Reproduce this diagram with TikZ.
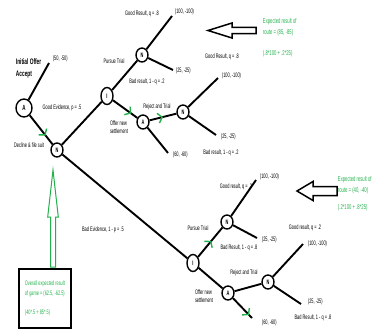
\documentclass[tikz,border=0pt]{standalone}
\usepackage{fontspec}
\setmainfont{Liberation Sans}[FakeStretch=0.6]
\usetikzlibrary{arrows.meta,decorations.markings,shapes.geometric}
\definecolor{paintgreen}{RGB}{34,177,76}

\begin{document}
\begin{tikzpicture}[x=1pt,y=-1pt,line width=1.9pt,
  main node/.style={ellipse,draw,fill=white,line width=1.4pt,inner sep=0pt,minimum width=12pt,minimum height=14pt,font=\fontsize{6.5}{6.5}\selectfont\bfseries},
  root node/.style={main node,minimum width=16pt,minimum height=18pt,font=\fontsize{7.5}{7.5}\selectfont\bfseries},
  trial node/.style={main node,minimum height=17pt},
  lbl/.style={font=\fontsize{6.5}{8.5}\selectfont,inner sep=0pt,align=left},
  pay/.style={lbl,anchor=west},
  note/.style={font=\fontsize{7}{11}\selectfont,text=paintgreen,align=left,anchor=north west,inner sep=0pt},
  go/.style={postaction={decorate,decoration={markings,mark=at position #1 with {\arrow[paintgreen,line width=1.4pt]{Straight Barb[length=4pt,width=10pt]}}}}},
  big arrow/.style={draw,line width=1.5pt,line join=miter}]
  \useasboundingbox (0,0) rectangle (375,330);

  \coordinate (e0) at (49,63);
  \coordinate (e1) at (172,16);
  \coordinate (e2) at (173,70);
  \coordinate (e3) at (168,153);
  \coordinate (e4) at (218,78);
  \coordinate (e5) at (216,135);
  \coordinate (e6) at (256,180);
  \coordinate (e7) at (257,238);
  \coordinate (e8) at (303,244);
  \coordinate (e9) at (301,304);
  \coordinate (e10) at (252,318);

  \node[root node] (1) at (24,108) {A};
  \node[main node] (2) at (57,150) {N};
  \node[trial node] (3) at (107,96) {I};
  \node[main node] (4) at (142,55) {N};
  \node[main node] (5) at (143,122) {A};
  \node[main node] (6) at (183,112) {N};
  \node[trial node] (7) at (193,263) {I};
  \node[main node] (8) at (227,222) {N};
  \node[main node] (9) at (228,293) {A};
  \node[main node] (10) at (268,282) {N};

\path
  (1) edge (e0)
  (1) edge[go=.7] (2)
  (2) edge (3)
  (3) edge (4)
  (4) edge (e1)
  (4) edge (e2)
  (3) edge[go=.75] (5)
  (5) edge[go=.5] (6)
  (6) edge (e4)
  (6) edge (e5)
  (5) edge (e3)
  (2) edge (7)
  (7) edge[go=.55] (8)
  (8) edge (e6)
  (8) edge (e7)
  (7) edge (9)
  (9) edge (10)
  (10) edge (e8)
  (10) edge (e9)
  (9) edge[go=.85] (e10)
;

  \node[lbl,anchor=west,font=\fontsize{8}{12}\selectfont\bfseries] (l0) at (15,68) {Initial Offer\\Accept};
  \node[lbl] (l1) at (29,145) {Decline \& file suit};
  \node[lbl] (l2) at (62,108) {Good Evidence, p = .5};
  \node[lbl] (l3) at (114,61) {Pursue Trial};
  \node[lbl] (l4) at (142,14) {Good Result, q = .8};
  \node[lbl] (l5) at (147,82) {Bad result, 1 - q = .2};
  \node[lbl] (l6) at (119,127) {Offer new\\settlement};
  \node[lbl] (l7) at (157,107) {Reject and Trial};
  \node[lbl] (l8) at (222,57) {Good Result, q = .8};
  \node[lbl] (l9) at (221,153) {Bad result, 1 - q = .2};
  \node[lbl] (l10) at (103,230) {Bad Evidence, 1 - p = .5};
  \node[lbl] (l11) at (198,228) {Pursue Trial};
  \node[lbl] (l12) at (236,187) {Good result, q = .2};
  \node[lbl] (l13) at (239,248) {Bad Result, 1 - q = .8};
  \node[lbl] (l14) at (204,296) {Offer new\\settlement};
  \node[lbl] (l15) at (244,273) {Reject and Trial};
  \node[lbl] (l16) at (305,228) {Good result, q = .2};
  \node[lbl] (l17) at (313,318) {Bad Result, 1 - q = .8};

  \node[pay] (p0) at (52,59) {(50, -50)};
  \node[pay] (p1) at (174,12) {(100, -100)};
  \node[pay] (p2) at (175,71) {(25, -25)};
  \node[pay] (p3) at (172,155) {(60, -60)};
  \node[pay] (p4) at (221,76) {(100, -100)};
  \node[pay] (p5) at (220,137) {(25, -25)};
  \node[pay] (p6) at (259,177) {(100, -100)};
  \node[pay] (p7) at (261,240) {(25, -25)};
  \node[pay] (p8) at (307,244) {(100, -100)};
  \node[pay] (p9) at (307,302) {(25, -25)};
  \node[pay] (p10) at (261,323) {(60, -60)};

  \draw[big arrow] (208,30.5) -- (232,23) -- (232,27.3) -- (256,27.3) -- (256,33.7) -- (232,33.7) -- (232,38) -- cycle;
  \draw[big arrow] (297,191) -- (313,181.5) -- (313,186.5) -- (337,186.5) -- (337,195.5) -- (313,195.5) -- (313,200.5) -- cycle;
  \draw[big arrow,paintgreen,line width=1pt] (53,170) -- (58.3,217) -- (55.5,217) -- (55.5,267) -- (50.5,267) -- (50.5,217) -- (47.7,217) -- cycle;

  \node[note] (r1) at (262,17) {Expected result of\\route = (85, -85)\\[10pt](.8*100 + .2*25)};
  \node[note] (r2) at (337,175) {Expected result of\\route = (40, -40)\\[6pt](.2*100 + .8*25)};
  \node[draw,line width=1.8pt,minimum width=52pt,minimum height=59pt,inner sep=0pt,anchor=north west,
        font=\fontsize{6.5}{10}\selectfont,text=paintgreen,align=left] (game) at (18,268)
        {Overall expected result\\of game = (62.5, -62.5)\\[9pt](40*.5 + 85*.5)};
\end{tikzpicture}
\end{document}
